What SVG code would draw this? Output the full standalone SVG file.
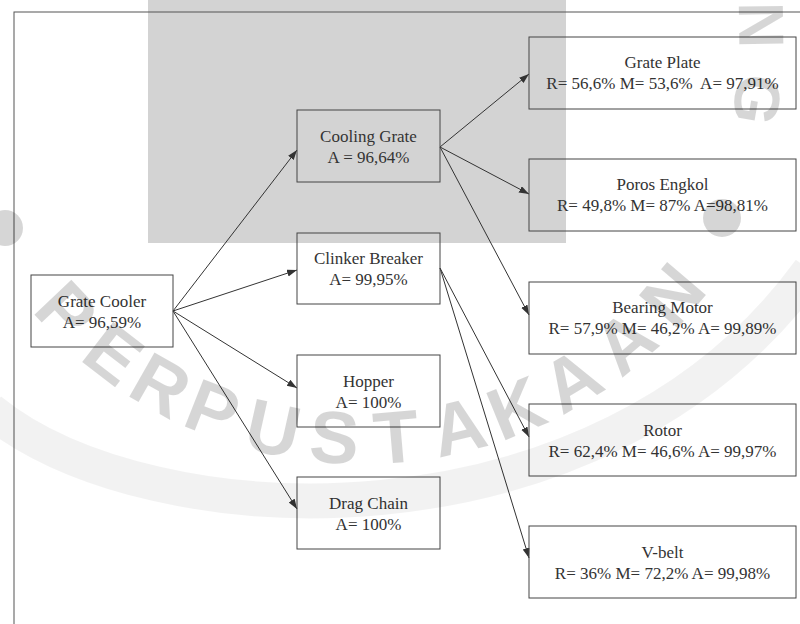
<svg xmlns="http://www.w3.org/2000/svg" width="800" height="624" viewBox="0 0 800 624">
<style>
.box{fill:none;stroke:#444;stroke-width:1}
.t{font-size:17px;fill:#333;text-anchor:middle}
.edge{stroke:#333;stroke-width:1;fill:none;marker-end:url(#arr)}
.wm{font-weight:bold;font-size:74px;fill:#000;fill-opacity:0.16;text-anchor:middle}
.dot{fill:#000;fill-opacity:0.16}
</style>
<defs>
<marker id="arr" markerUnits="userSpaceOnUse" markerWidth="10" markerHeight="8" refX="10" refY="3.5" orient="auto">
<path d="M0,0 L10,3.5 L0,7 z" fill="#333"/>
</marker>
</defs>
<rect width="800" height="624" fill="#fff"/>
<rect x="148" y="0" width="418" height="243" fill="#d3d3d3"/>
<rect x="14" y="12" width="800" height="620" fill="none" stroke="#555" stroke-width="1"/>
<g id="connectors">
<line class="edge" x1="173" y1="311" x2="297" y2="150"/>
<line class="edge" x1="173" y1="311" x2="297" y2="270"/>
<line class="edge" x1="173" y1="311" x2="297" y2="388"/>
<line class="edge" x1="173" y1="311" x2="297" y2="509"/>
<line class="edge" x1="440" y1="147" x2="529" y2="74"/>
<line class="edge" x1="440" y1="147" x2="529" y2="194"/>
<line class="edge" x1="440" y1="147" x2="529" y2="315"/>
<line class="edge" x1="440" y1="268" x2="529" y2="437"/>
<line class="edge" x1="440" y1="268" x2="529" y2="558"/>
</g>
<g id="nodes" font-family="'Liberation Serif', 'Times New Roman', 'DejaVu Serif', serif">
<g id="grate-cooler">
<rect class="box" x="31" y="275" width="142" height="72"/>
<text class="t" x="102" y="307">Grate Cooler</text>
<text class="t" x="102" y="328">A= 96,59%</text>
</g>
<g id="cooling-grate">
<rect class="box" x="297" y="110" width="143" height="72"/>
<text class="t" x="368.5" y="142">Cooling Grate</text>
<text class="t" x="368.5" y="163">A = 96,64%</text>
</g>
<g id="clinker-breaker">
<rect class="box" x="297" y="233" width="143" height="71"/>
<text class="t" x="368.5" y="264">Clinker Breaker</text>
<text class="t" x="368.5" y="285">A= 99,95%</text>
</g>
<g id="hopper">
<rect class="box" x="297" y="355" width="143" height="72"/>
<text class="t" x="368.5" y="387">Hopper</text>
<text class="t" x="368.5" y="408">A= 100%</text>
</g>
<g id="drag-chain">
<rect class="box" x="297" y="477" width="143" height="72"/>
<text class="t" x="368.5" y="509">Drag Chain</text>
<text class="t" x="368.5" y="530">A= 100%</text>
</g>
<g id="grate-plate">
<rect class="box" x="529" y="37" width="267" height="72"/>
<text class="t" x="662.5" y="68">Grate Plate</text>
<text class="t" x="662.5" y="89" xml:space="preserve">R= 56,6% M= 53,6%  A= 97,91%</text>
</g>
<g id="poros-engkol">
<rect class="box" x="529" y="159" width="267" height="72"/>
<text class="t" x="662.5" y="190">Poros Engkol</text>
<text class="t" x="662.5" y="211">R= 49,8% M= 87% A=98,81%</text>
</g>
<g id="bearing-motor">
<rect class="box" x="529" y="282" width="267" height="72"/>
<text class="t" x="662.5" y="313">Bearing Motor</text>
<text class="t" x="662.5" y="334">R= 57,9% M= 46,2% A= 99,89%</text>
</g>
<g id="rotor">
<rect class="box" x="529" y="404" width="267" height="72"/>
<text class="t" x="662.5" y="436">Rotor</text>
<text class="t" x="662.5" y="457">R= 62,4% M= 46,6% A= 99,97%</text>
</g>
<g id="v-belt">
<rect class="box" x="529" y="526" width="267" height="72"/>
<text class="t" x="662.5" y="558">V-belt</text>
<text class="t" x="662.5" y="579">R= 36% M= 72,2% A= 99,98%</text>
</g>
</g>
<g id="watermark" font-family="'Liberation Sans', Arial, sans-serif">
<path d="M-10,410 C150,540 600,560 810,270" fill="none" stroke="#000" stroke-opacity="0.05" stroke-width="35"/>
<circle class="dot" cx="5" cy="228" r="18"/>
<circle class="dot" cx="722" cy="218" r="19"/>
<text class="wm" transform="translate(66.8,311.2) rotate(46.5)" y="26">P</text>
<text class="wm" transform="translate(113.7,353.5) rotate(37.6)" y="26">E</text>
<text class="wm" transform="translate(161,384.9) rotate(29.6)" y="26">R</text>
<text class="wm" transform="translate(212.8,409.7) rotate(21.5)" y="26">P</text>
<text class="wm" transform="translate(273.2,428.2) rotate(12.6)" y="26">U</text>
<text class="wm" transform="translate(334.3,437.1) rotate(3.9)" y="26">S</text>
<text class="wm" transform="translate(396.1,436.6) rotate(-4.8)" y="26">T</text>
<text class="wm" transform="translate(458.4,426.4) rotate(-13.7)" y="26">A</text>
<text class="wm" transform="translate(515.8,407.8) rotate(-22.2)" y="26">K</text>
<text class="wm" transform="translate(571.6,379.9) rotate(-31)" y="26">A</text>
<text class="wm" transform="translate(624.7,341.9) rotate(-40.2)" y="26">A</text>
<text class="wm" transform="translate(671.9,294.8) rotate(-49.6)" y="26">N</text>
<text class="wm" style="font-size:64px" transform="translate(762,25) rotate(89.2)" y="23">N</text>
<text class="wm" style="font-size:64px" transform="translate(758,100) rotate(99.8)" y="23">G</text>
</g>
</svg>
